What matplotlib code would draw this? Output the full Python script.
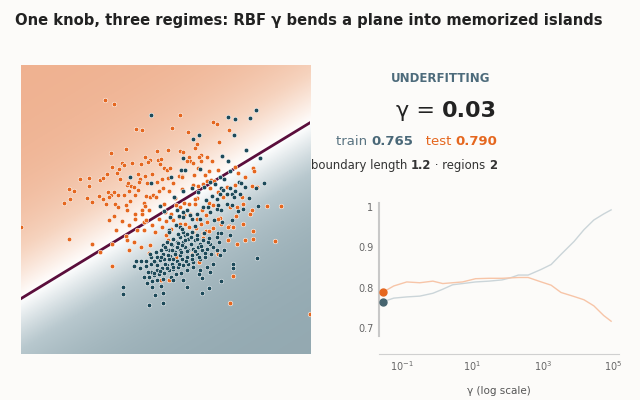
import numpy as np
import matplotlib
matplotlib.use("Agg")
import matplotlib.pyplot as plt
from matplotlib.colors import LinearSegmentedColormap

# ---- data ------------------------------------------------------------------
orange_x = [31.5, 34.0, 54.0, 64.0, 65.2, 40.8, 42.4, 51.5, 56.4, 68.6, 65.8, 59.1, 58.5, 37.7, 33.3,
            47.0, 50.2, 54.0, 54.8, 60.4, 59.7, 56.6, 62.0, 63.7, 43.4, 44.9, 47.3, 48.3, 57.1, 56.1,
            36.4, 37.0, 39.6, 42.2, 44.4, 47.9, 58.0, 60.4, 35.6, 33.5, 59.3, 62.6, 65.5, 70.5, 76.0,
            32.0, 29.8, 30.8, 26.6, 23.9, 35.0, 41.4, 43.3, 45.6, 49.1, 50.1, 51.0, 53.6, 54.7, 58.1,
            61.6, 63.3, 64.1, 71.4, 73.6, 76.1, 41.8, 36.0, 38.0, 38.4, 39.2, 40.2, 41.5, 44.0, 47.0,
            48.5, 50.3, 52.0, 54.5, 58.0, 59.4, 60.8, 62.0, 63.0, 68.0, 70.5, 77.1, 75.7, 20.5, 22.0,
            26.5, 32.2, 33.3, 35.4, 37.2, 34.1, 32.5, 38.7, 41.2, 43.6, 44.9, 47.6, 48.7, 50.5, 54.5,
            59.1, 65.5, 72.7, 20.8, 26.0, 27.5, 29.7, 30.8, 31.6, 34.4, 37.6, 38.9, 40.4, 43.0, 45.7,
            46.8, 49.0, 52.4, 55.2, 56.6, 58.4, 62.7, 67.0, 71.1, 72.8, 80.2, 84.3, 19.0, 35.3, 38.0,
            40.4, 42.5, 43.4, 42.6, 44.6, 49.5, 51.2, 52.8, 54.0, 55.1, 56.9, 58.5, 60.5, 61.7, 64.0,
            66.0, 69.0, 70.7, 75.0, 75.7, 32.5, 34.0, 36.6, 40.4, 43.0, 43.6, 47.5, 49.8, 52.0, 53.6,
            54.1, 55.5, 59.0, 60.4, 62.0, 65.3, 66.3, 68.6, 70.0, 72.9, 6.3, 34.8, 38.5, 41.0, 43.2,
            45.6, 46.3, 48.6, 51.3, 56.6, 58.0, 58.9, 60.8, 61.7, 62.8, 63.9, 68.3, 76.0, 20.5, 27.4,
            37.8, 38.0, 40.1, 38.5, 42.3, 44.8, 50.2, 49.8, 50.8, 60.8, 68.4, 71.0, 73.6, 75.8, 82.5,
            30.0, 33.5, 52.7, 59.7, 57.7, 65.0, 65.4, 33.6, 48.1, 50.6, 70.0, 69.0, 93.0, 44.5]
orange_y = [85.2, 84.0, 80.7, 78.7, 77.9, 76.5, 76.2, 76.7, 75.6, 76.2, 72.7, 72.0, 70.8, 70.4, 69.4,
            69.8, 70.2, 70.0, 69.6, 68.8, 68.2, 68.2, 68.0, 67.0, 68.2, 67.2, 67.2, 67.5, 67.0, 67.0,
            66.4, 65.8, 66.4, 66.0, 66.6, 66.0, 66.2, 67.0, 64.4, 65.0, 64.8, 64.0, 64.2, 65.2, 64.8,
            63.0, 61.2, 61.8, 61.8, 61.6, 63.2, 63.0, 62.4, 63.0, 64.7, 64.3, 64.7, 62.4, 62.4, 62.8,
            62.7, 61.3, 61.0, 63.2, 62.2, 64.0, 61.6, 61.6, 59.6, 60.2, 59.4, 59.2, 60.5, 60.4, 60.7,
            61.4, 61.8, 60.3, 62.0, 59.6, 59.5, 60.0, 61.0, 58.8, 59.2, 59.8, 59.0, 59.4, 58.5, 58.0,
            59.3, 57.6, 56.8, 56.7, 56.6, 57.5, 56.0, 58.0, 58.2, 56.5, 56.2, 57.8, 58.8, 58.0, 58.6,
            55.8, 57.5, 56.0, 55.5, 55.7, 54.5, 56.4, 55.4, 54.0, 54.0, 53.8, 55.0, 56.8, 54.4, 56.7,
            56.0, 54.0, 55.9, 54.2, 54.0, 55.6, 54.2, 56.0, 53.0, 54.0, 53.3, 53.3, 54.3, 53.0, 52.0,
            51.0, 51.0, 53.5, 52.0, 52.0, 51.4, 50.8, 53.7, 53.0, 50.7, 50.8, 54.0, 52.0, 50.6, 53.6,
            49.7, 53.0, 50.3, 51.0, 52.0, 49.2, 50.2, 48.9, 49.5, 48.6, 49.0, 49.5, 48.7, 49.0, 50.0,
            48.0, 48.0, 49.5, 48.0, 48.5, 49.5, 48.0, 47.2, 47.1, 48.0, 47.1, 46.0, 47.6, 46.0, 46.0,
            47.5, 45.5, 47.0, 46.3, 47.0, 45.5, 46.8, 45.2, 45.7, 45.7, 46.7, 46.9, 45.7, 43.5, 42.0,
            44.2, 43.0, 42.5, 40.0, 41.0, 41.6, 43.0, 44.7, 45.5, 43.7, 43.0, 42.0, 43.0, 43.5, 42.7,
            39.5, 42.0, 38.0, 36.5, 38.8, 39.6, 38.8, 35.2, 31.0, 31.0, 32.4, 24.3, 20.9, 39.2]

dark_x = [45.1, 68.3, 70.4, 75.1, 76.8, 70.2, 59.8, 58.0, 73.8, 66.6, 68.5, 54.8, 77.9, 54.3, 55.6,
          60.0, 69.0, 39.0, 66.0, 71.8, 79.1, 45.2, 51.3, 63.0, 66.2, 73.4, 57.7, 59.3, 61.2, 67.0,
          68.9, 69.6, 74.6, 76.8, 72.4, 61.7, 65.1, 63.7, 68.0, 70.1, 77.3, 47.8, 49.0, 56.2, 62.3,
          63.1, 65.0, 65.5, 71.3, 50.9, 55.0, 57.7, 60.0, 64.1, 66.7, 69.5, 50.6, 52.9, 54.0, 55.5,
          65.5, 66.4, 69.0, 65.7, 62.5, 59.9, 58.5, 64.5, 67.2, 66.0, 66.3, 68.0, 69.7, 73.0, 72.0,
          70.5, 61.0, 59.0, 57.0, 53.0, 52.2, 55.0,
          40.7, 42.1, 43.6, 45.2, 47.0, 48.7, 50.5, 42.0, 43.6, 45.3, 46.5, 47.8, 49.2, 51.0, 52.5,
          54.0, 55.6, 57.3, 59.0, 61.0, 63.1, 65.1, 45.2, 47.0, 48.5, 50.0, 51.5, 53.0, 54.5, 56.0,
          57.5, 59.0, 60.5, 62.0, 64.0, 43.0, 44.5, 46.0, 47.5, 49.0, 50.5, 52.0, 53.5, 55.0, 56.5,
          58.0, 60.0, 61.5, 63.2, 66.0, 67.3, 44.0, 45.5, 47.0, 48.8, 51.2, 52.8, 54.4, 56.0, 58.0,
          60.0, 62.0, 64.0, 69.9, 70.0, 45.5, 48.3, 52.0, 54.8, 56.0, 60.7, 63.0, 66.4, 36.7, 36.7,
          46.5, 48.8, 44.5, 48.9, 60.7, 62.7, 77.1, 54.0, 53.0, 51.5, 55.0, 56.5, 49.8, 48.3, 46.8,
          45.0, 56.0, 57.5, 52.0, 53.5, 54.8, 50.0, 51.5, 40.0, 48.9, 59.6, 65.1, 53.7, 54.9, 47.0,
          49.5, 52.0, 54.0, 50.5, 53.0, 54.5, 56.5, 58.0, 59.5,
          44.2, 46.0, 48.0, 50.0, 51.8, 53.8, 55.8, 57.6, 59.6, 61.6, 46.2, 48.2, 50.2, 52.4, 54.2,
          56.2, 58.4, 60.4, 62.4, 49.4, 51.4, 53.4, 55.4, 57.4, 59.2, 61.2, 50.6, 54.6, 58.6, 62.8]
dark_y = [80.6, 80.2, 79.6, 79.9, 82.2, 74.8, 74.8, 73.4, 70.3, 68.4, 67.0, 67.8, 67.8, 64.3, 64.3,
          64.5, 63.8, 62.2, 62.0, 60.5, 60.3, 60.3, 62.0, 60.5, 58.8, 59.1, 58.8, 57.5, 59.0, 58.2,
          58.7, 57.0, 55.7, 58.8, 60.2, 55.2, 55.6, 56.3, 57.0, 56.0, 53.5, 53.4, 51.8, 52.2, 53.1,
          51.4, 52.6, 53.8, 51.8, 49.9, 50.0, 49.4, 49.5, 49.0, 48.5, 49.0, 46.0, 47.5, 47.0, 44.5,
          45.2, 45.2, 44.5, 42.5, 42.7, 42.0, 43.0, 60.0, 61.5, 57.0, 52.0, 54.0, 53.8, 52.5, 57.0,
          58.0, 53.0, 51.0, 50.5, 52.0, 56.0, 58.0,
          36.7, 36.7, 36.7, 37.9, 38.0, 39.0, 40.0, 34.8, 35.2, 36.0, 36.4, 37.2, 37.5, 38.3, 39.5,
          40.2, 41.0, 42.0, 43.3, 43.2, 42.0, 44.0, 33.5, 34.0, 34.8, 35.5, 36.0, 36.8, 37.5, 38.0,
          38.5, 39.0, 40.0, 40.5, 41.0, 32.0, 32.0, 32.5, 32.8, 33.2, 34.0, 34.5, 35.0, 35.5, 36.0,
          36.5, 37.5, 38.0, 38.8, 38.7, 40.2, 30.3, 30.7, 31.0, 31.3, 32.0, 32.8, 33.3, 34.0, 35.0,
          34.0, 35.0, 36.0, 36.0, 34.8, 29.0, 29.4, 31.0, 31.0, 29.0, 31.7, 33.5, 30.8, 29.0, 27.0,
          26.7, 27.3, 23.5, 24.2, 27.3, 28.8, 37.7, 44.0, 42.5, 41.5, 42.5, 43.5, 40.5, 40.2, 39.5,
          39.0, 45.0, 45.5, 43.5, 45.0, 45.5, 42.5, 40.0, 35.4, 41.6, 32.9, 40.1, 50.4, 51.6, 35.5,
          36.0, 37.5, 38.5, 37.5, 41.0, 41.5, 40.0, 40.5, 41.0,
          33.6, 33.2, 33.9, 34.6, 35.1, 35.8, 36.9, 37.4, 38.1, 39.3, 36.9, 37.9, 38.6, 39.0, 39.4,
          39.7, 39.9, 41.2, 42.4, 41.1, 41.9, 42.1, 43.0, 44.1, 44.6, 45.3, 45.4, 46.4, 47.2, 43.6]

# fitted boundary at gamma = 0.03 (nearly a straight line)
boundary_slope = 0.61
boundary_intercept = 21.7

# gamma sweep (log10 gamma) and accuracies
log_gamma = [-1.47, -1.23, -0.86, -0.49, -0.12, 0.16, 0.44, 0.72, 1.09, 1.47, 1.84, 2.07, 2.30,
             2.58, 2.95, 3.23, 3.51, 3.88, 4.16, 4.44, 4.72, 4.93]
train_acc = [0.767, 0.774, 0.777, 0.779, 0.786, 0.796, 0.807, 0.810, 0.814, 0.816, 0.819, 0.824,
             0.831, 0.831, 0.845, 0.857, 0.882, 0.914, 0.943, 0.967, 0.982, 0.992]
test_acc = [0.792, 0.804, 0.814, 0.812, 0.816, 0.810, 0.812, 0.814, 0.822, 0.823, 0.823, 0.824,
            0.825, 0.825, 0.814, 0.806, 0.788, 0.778, 0.770, 0.755, 0.731, 0.717]

gamma_now = 0.03
train_now = 0.765
test_now = 0.790

ORANGE = "#E5671F"
DARK = "#1D4A5A"
BG = "#FCFBF9"

fig = plt.figure(figsize=(6.4, 4.0), dpi=100, facecolor=BG)

fig.text(0.023, 0.95, "One knob, three regimes: RBF \u03b3 bends a plane into memorized islands",
         fontsize=10.6, fontweight="bold", color="#222222", va="center", ha="left")

# ---- main decision panel ----------------------------------------------------
ax = fig.add_axes([0.0328, 0.115, 0.4516, 0.7225])
xlo, xhi, ylo, yhi = 6.2, 93.0, 8.8, 95.8
gx, gy = np.meshgrid(np.linspace(xlo, xhi, 300), np.linspace(ylo, yhi, 300))
dist = (gy - (boundary_slope * gx + boundary_intercept)) / np.sqrt(1 + boundary_slope ** 2)
score = np.tanh(dist / 24.0)
cmap = LinearSegmentedColormap.from_list(
    "bg", ["#93A9B1", "#B8C8CE", "#FFFFFF", "#F6D3BE", "#EFB190"])
ax.imshow(score, extent=(xlo, xhi, ylo, yhi), origin="lower", cmap=cmap,
          vmin=-1, vmax=1, aspect="auto", interpolation="bilinear")
bx = np.array([xlo, xhi])
ax.plot(bx, boundary_slope * bx + boundary_intercept, color="#5B0E3C", lw=2)
ax.scatter(orange_x, orange_y, s=11, color=ORANGE, edgecolors="white", linewidths=0.4, zorder=3)
ax.scatter(dark_x, dark_y, s=11, color=DARK, edgecolors="white", linewidths=0.4, zorder=3)
ax.set_xlim(xlo, xhi)
ax.set_ylim(ylo, yhi)
ax.set_xticks([])
ax.set_yticks([])
for s in ax.spines.values():
    s.set_visible(False)

# ---- right-hand readout -----------------------------------------------------
fig.text(0.689, 0.805, "UNDERFITTING", fontsize=8.5, fontweight="bold", color="#4D6B7B",
         ha="center", va="center")

renderer = fig.canvas.get_renderer()


def right_text(x_right, y, pieces):
    # pieces drawn right to left so the row ends at x_right
    x = x_right
    for txt, kw in reversed(pieces):
        t = fig.text(x, y, txt, ha="right", va="baseline", **kw)
        bb = t.get_window_extent(renderer)
        x = fig.transFigure.inverted().transform((bb.x0, bb.y0))[0]


right_text(0.777, 0.7075, [("\u03b3 = ", dict(fontsize=16, color="#222222")),
                           ("0.03", dict(fontsize=16, color="#222222", fontweight="bold"))])
right_text(0.777, 0.637, [("train ", dict(fontsize=9.5, color="#5A7482")),
                          ("0.765", dict(fontsize=9.5, color="#4A6878", fontweight="bold")),
                          ("   test ", dict(fontsize=9.5, color=ORANGE)),
                          ("0.790", dict(fontsize=9.5, color=ORANGE, fontweight="bold"))])
right_text(0.777, 0.577, [("boundary length ", dict(fontsize=8.4, color="#333333")),
                          ("1.2", dict(fontsize=8.4, color="#333333", fontweight="bold")),
                          (" \u00b7 regions ", dict(fontsize=8.4, color="#333333")),
                          ("2", dict(fontsize=8.4, color="#333333", fontweight="bold"))])

# ---- gamma sweep inset ------------------------------------------------------
ax2 = fig.add_axes([0.592, 0.115, 0.375, 0.3775])
ax2.set_facecolor(BG)
g = 10.0 ** np.array(log_gamma)
ax2.plot(g, train_acc, color="#CBD5D9", lw=1)
ax2.plot(g, test_acc, color="#F7C5A8", lw=1)
ax2.plot([gamma_now], [test_now], "o", color=ORANGE, ms=5, zorder=4)
ax2.plot([gamma_now], [train_now], "o", color="#46646F", ms=5, zorder=4)
ax2.set_xscale("log")
ax2.set_xlim(10 ** -1.65, 10 ** 5.15)
ax2.set_ylim(0.636, 1.009)
ax2.set_xticks([0.1, 10, 1000, 1e5])
ax2.set_xticklabels(["$10^{-1}$", "$10^{1}$", "$10^{3}$", "$10^{5}$"])
ax2.minorticks_off()
ax2.set_yticks([0.7, 0.8, 0.9, 1.0])
ax2.set_yticklabels(["0.7", "0.8", "0.9", "1"])
ax2.tick_params(length=0, labelsize=7, colors="#666666", pad=4)
ax2.set_xlabel("\u03b3 (log scale)", fontsize=7.5, color="#555555", labelpad=9)
ax2.spines["top"].set_visible(False)
ax2.spines["right"].set_visible(False)
ax2.spines["left"].set_color("#C8C8C8")
ax2.spines["left"].set_linewidth(1.5)
ax2.spines["left"].set_bounds(0.68, 1.008)
ax2.spines["bottom"].set_color("#D0D0D0")

fig.savefig("out.png", dpi=100, facecolor=BG)
